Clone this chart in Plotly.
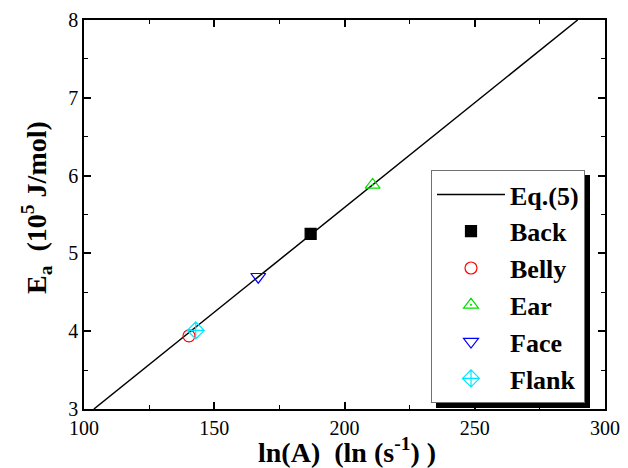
import plotly.graph_objects as go

# Data
line_x = [103.8, 289.5]
line_y = [3.0, 8.0]
series_names = ["Back", "Belly", "Ear", "Face", "Flank"]
series_x = [187.0, 140.3, 210.8, 166.9, 142.9]
series_y = [5.25, 3.94, 5.88, 4.70, 4.01]
series_symbols = ["square", "circle-open", "triangle-up-open-dot", "triangle-down-open", "diamond-cross-open"]
series_colors = ["#000000", "#ff0000", "#00e000", "#0000ff", "#00e5ff"]
series_sizes = [11, 12, 13, 13, 13]

x_ticks = [100, 150, 200, 250, 300]
y_ticks = [3, 4, 5, 6, 7, 8]

serif = "Liberation Serif"

fig = go.Figure()
fig.add_trace(go.Scatter(x=line_x, y=line_y, mode="lines", name="Eq.(5)", legendgroup="g0",
                         line=dict(color="black", width=1.5)))
for i, (n, x, y, s, c, sz) in enumerate(zip(series_names, series_x, series_y, series_symbols, series_colors, series_sizes)):
    fig.add_trace(go.Scatter(x=[x], y=[y], mode="markers", name=n, legendgroup=f"g{i+1}",
                             marker=dict(symbol=s, color=c, size=sz, line=dict(color=c, width=1.2))))

axis_common = dict(showline=True, linecolor="black", linewidth=1.5, mirror="allticks",
                   ticks="inside", ticklen=7, tickwidth=1.5, tickcolor="black",
                   showgrid=False, zeroline=False, automargin=False,
                   tickfont=dict(family=serif, size=20, color="black"))

fig.update_layout(
    width=628, height=468,
    margin=dict(l=84, r=23, t=20, b=59),
    paper_bgcolor="white", plot_bgcolor="white",
    font=dict(family=serif, color="black"),
    xaxis=dict(range=[100, 300], tickvals=x_ticks,
               minor=dict(dtick=25, ticks="inside", ticklen=4, tickwidth=1.2, tickcolor="black"),
               **axis_common),
    yaxis=dict(range=[3, 8], tickvals=y_ticks,
               minor=dict(dtick=0.5, ticks="inside", ticklen=4, tickwidth=1.2, tickcolor="black"),
               **axis_common),
    legend=dict(x=(431 - 84) / 521, y=(409 - 170) / 389, xanchor="left", yanchor="top",
                bgcolor="white", bordercolor="#707070", borderwidth=1,
                font=dict(family=serif, size=26, color="black", weight="bold"),
                itemwidth=68, tracegroupgap=0),
    showlegend=True,
    annotations=[
        dict(text="<b>ln(A)  (ln (s<sup>-1</sup>) )</b>", xref="paper", yref="paper",
             x=(347 - 84) / 521, y=(409 - 450) / 389, xanchor="center", yanchor="middle", showarrow=False,
             font=dict(family=serif, size=28, color="black")),
        dict(text="<b>E<sub>a</sub>  (10<sup>5</sup> J/mol)</b>", xref="paper", yref="paper",
             x=(36 - 84) / 521, y=(409 - 208) / 389, xanchor="center", yanchor="middle",
             textangle=-90, showarrow=False,
             font=dict(family=serif, size=28, color="black")),
    ],
)

# legend drop shadow
fig.add_shape(type="rect", xref="paper", yref="paper",
              x0=(436 - 84) / 521, x1=(590 - 84) / 521,
              y0=(409 - 408) / 389, y1=(409 - 175) / 389,
              fillcolor="black", line=dict(width=0), layer="above")

fig.write_html("out.html", config={"displayModeBar": False},
               post_script="document.body.style.margin='0';")
